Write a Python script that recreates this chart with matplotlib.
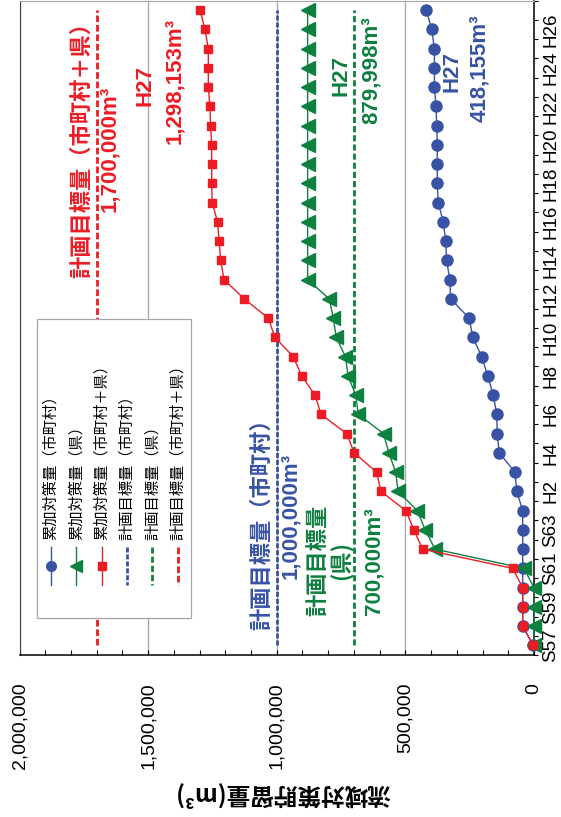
import matplotlib
matplotlib.use('Agg')
import matplotlib.pyplot as plt
from matplotlib.lines import Line2D
from matplotlib.patches import Rectangle
from matplotlib.ticker import FixedLocator, MultipleLocator, FuncFormatter

CJK = ['Noto Sans CJK JP', 'DejaVu Sans']
LAT = ['Liberation Sans', 'DejaVu Sans']

years = ['S57', 'S58', 'S59', 'S60', 'S61', 'S62', 'S63',
         'H1', 'H2', 'H3', 'H4', 'H5', 'H6', 'H7', 'H8', 'H9', 'H10',
         'H11', 'H12', 'H13', 'H14', 'H15', 'H16', 'H17', 'H18', 'H19', 'H20',
         'H21', 'H22', 'H23', 'H24', 'H25', 'H26', 'H27']

# 累加対策量 (m3)
city = [3000, 44000, 44000, 44000, 44000, 44000, 44000,
        44000, 67000, 74000, 135000, 143000, 145000, 158000, 180000, 203000, 238000,
        252000, 324000, 327000, 340000, 343000, 353000, 372000, 376000, 376000, 376000,
        378000, 381000, 387000, 387000, 387000, 398000, 418155]
pref = [0, 0, 0, 0, 39000, 385000, 423000,
        454000, 528000, 538000, 564000, 585000, 683000, 693000, 723000, 733000, 769000,
        780000, 796000, 879998, 879998, 879998, 879998, 879998, 879998, 879998, 879998,
        879998, 879998, 879998, 879998, 879998, 879998, 879998]
total = [3000, 44000, 44000, 44000, 83000, 433000, 467000,
         498000, 595000, 612000, 699000, 728000, 828000, 851000, 903000, 936000, 1007000,
         1033000, 1126000, 1205000, 1218000, 1224000, 1230000, 1251000, 1253000, 1253000, 1253000,
         1257000, 1260000, 1266000, 1266000, 1266000, 1279000, 1298153]

# 計画目標量 (m3)
target_city = 1000000
target_pref = 700000
target_total = 1700000

legend_labels = ['累加対策量（市町村）', '累加対策量（県）', '累加対策量（市町村＋県）',
                 '計画目標量（市町村）', '計画目標量（県）', '計画目標量（市町村＋県）']

BLUE = '#3953A4'
GREEN = '#0E8040'
RED = '#ED1C24'

W, H = 561, 817


def fx(px):
    return px / W


def fy(py):
    return 1 - py / H


fig = plt.figure(figsize=(W / 100, H / 100), dpi=100)
ax = fig.add_axes([fx(19.5), fy(655), fx(534) - fx(19.5), fy(0.5) - fy(655)])

y = list(range(len(years)))
n = len(years)

# 目標線
styles = [
    (target_city, BLUE, (1.8, 0.7)),
    (target_pref, GREEN, (2.2, 1.1)),
    (target_total, RED, (2.4, 1.0)),
]
for val, col, dash in styles:
    ax.plot([val] * n, y, color=col, lw=2.0, dashes=dash, zorder=2)

# 累加対策量
ax.plot(city, y, color=BLUE, lw=1.0, marker='o', ms=8, clip_on=False, zorder=4)
ax.plot(pref, y, color=GREEN, lw=1.0, marker='<', ms=10, clip_on=False, zorder=5)
ax.plot(total, y, color=RED, lw=1.0, marker='s', ms=6, clip_on=False, zorder=6)

ax.set_xlim(2000000, 0)
ax.set_ylim(-0.5, n - 0.5)

ax.xaxis.set_major_locator(MultipleLocator(500000))
ax.xaxis.set_minor_locator(MultipleLocator(100000))
ax.xaxis.set_major_formatter(FuncFormatter(lambda v, p: '{:,.0f}'.format(v)))
ax.tick_params(axis='x', which='both', direction='in', length=3.6, width=0.8,
               labelrotation=90, pad=20, labelsize=14)
for lab in ax.get_xticklabels():
    lab.set_family(LAT)

ax.yaxis.tick_right()
ax.yaxis.set_major_locator(FixedLocator(y[::2]))
ax.set_yticklabels(years[::2], family=LAT)
ax.yaxis.set_minor_locator(FixedLocator([i - 0.5 for i in range(n + 1)]))
ax.tick_params(axis='y', which='major', length=0, pad=6, labelrotation=90, labelsize=13.5)
ax.tick_params(axis='y', which='minor', direction='out', length=3, width=0.8)
for lab in ax.get_yticklabels():
    lab.set_va('center')

ax.grid(axis='x', which='major', color='#A6A6A6', lw=0.9)
ax.set_axisbelow(True)
for side in ['right', 'bottom']:
    ax.spines[side].set_color('black')
    ax.spines[side].set_linewidth(1.1)
ax.spines['left'].set_color('#404040')
ax.spines['top'].set_color('#A6A6A6')

fig.text(fx(282), fy(795), '流域対策貯留量(m³)', rotation=180, ha='center', va='center',
         fontsize=17, fontweight='bold', family=CJK)

# 注記
notes = [
    (1757000, 26.0, '計画目標量（市町村＋県）', RED, CJK),
    (1648000, 25.8, '1,700,000m³', RED, LAT),
    (1512000, 29.1, 'H27', RED, LAT),
    (1396000, 29.3, '1,298,153m³', RED, LAT),
    (750000, 29.6, 'H27', GREEN, LAT),
    (634000, 29.9, '879,998m³', GREEN, LAT),
    (319000, 29.8, 'H27', BLUE, LAT),
    (210000, 30.0, '418,155m³', BLUE, LAT),
    (1057000, 6.6, '計画目標量（市町村）', BLUE, CJK),
    (945000, 6.7, '1,000,000m³', BLUE, LAT),
    (840000, 4.4, '計画目標量', GREEN, CJK),
    (746000, 4.4, '(県)', GREEN, CJK),
    (622000, 4.4, '700,000m³', GREEN, LAT),
]
for v, i, s, col, fam in notes:
    ax.text(v, i, s, rotation=90, ha='center', va='center', color=col,
            fontsize=16, fontweight='bold', family=fam, zorder=7)

# 凡例
fig.add_artist(Rectangle((fx(37), fy(618)), fx(191) - fx(37), fy(319) - fy(618),
                         transform=fig.transFigure, facecolor='white',
                         edgecolor='#A6A6A6', lw=0.9, zorder=10))
entries = [
    (BLUE, 'o', 7, None),
    (GREEN, '<', 8, None),
    (RED, 's', 6, None),
    (BLUE, None, 0, (1.8, 0.7)),
    (GREEN, None, 0, (2.2, 1.1)),
    (RED, None, 0, (2.4, 1.0)),
]
for k, (col, mk, ms, dash) in enumerate(entries):
    xc = fx(50.7 + 25.4 * k)
    if dash is None:
        fig.add_artist(Line2D([xc, xc], [fy(547), fy(585)], transform=fig.transFigure,
                              color=col, lw=1.0, zorder=11))
        fig.add_artist(Line2D([xc], [fy(566)], transform=fig.transFigure, color=col,
                              marker=mk, ms=ms, zorder=12))
    else:
        fig.add_artist(Line2D([xc, xc], [fy(547), fy(585)], transform=fig.transFigure,
                              color=col, lw=2.0, dashes=dash, zorder=11))
    fig.text(xc, fy(540), legend_labels[k], rotation=90, ha='center', va='bottom',
             fontsize=11, family=CJK, zorder=12)

fig.savefig('out.png', dpi=100)
